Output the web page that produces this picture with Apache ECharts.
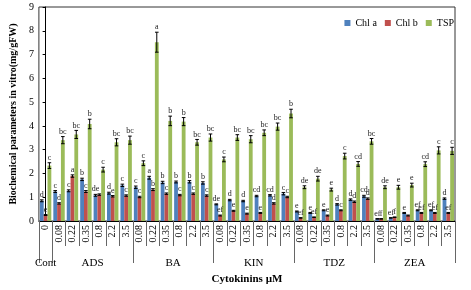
<!DOCTYPE html>
<html>
<head>
<meta charset="utf-8">
<script src="https://cdn.jsdelivr.net/npm/echarts@6/dist/echarts.min.js"></script>
<style>
  html, body { margin: 0; padding: 0; background: #fff; }
  #chart { width: 471px; height: 290px; }
</style>
</head>
<body>
<div id="chart"></div>
<script>
// doses per treatment (Cont + 5 cytokinins x 6 doses)
var doses = ['0',
  '0.08', '0.22', '0.35', '0.8', '2.2', '3.5',
  '0.08', '0.22', '0.35', '0.8', '2.2', '3.5',
  '0.08', '0.22', '0.35', '0.8', '2.2', '3.5',
  '0.08', '0.22', '0.35', '0.8', '2.2', '3.5',
  '0.08', '0.22', '0.35', '0.8', '2.2', '3.5'];
var groups = ['Cont', 'ADS', 'BA', 'KIN', 'TDZ', 'ZEA'];
var groupSizes = [1, 6, 6, 6, 6, 6];

var chlA = [0.85,
  1.24, 1.27, 1.75, 1.08, 1.17, 1.50,
  1.42, 1.82, 1.62, 1.64, 1.65, 1.60,
  0.70, 0.88, 0.84, 1.05, 1.08, 1.15,
  0.40, 0.34, 0.45, 0.70, 0.90, 1.04,
  0.09, 0.13, 0.34, 0.45, 0.45, 0.94];
var chlB = [0.25,
  0.74, 1.89, 1.24, 1.11, 1.04, 1.07,
  1.01, 1.32, 1.15, 1.09, 1.15, 1.07,
  0.23, 0.43, 0.31, 0.34, 0.74, 1.01,
  0.13, 0.16, 0.23, 0.45, 0.81, 0.94,
  0.09, 0.16, 0.23, 0.34, 0.34, 0.34];
var tsp = [2.33,
  3.40, 3.64, 4.08, 2.16, 3.31, 3.40,
  2.43, 7.52, 4.21, 4.18, 3.31, 3.51,
  2.59, 3.51, 3.44, 3.71, 3.97, 4.52,
  1.42, 1.78, 1.32, 2.73, 2.40, 3.35,
  1.42, 1.42, 1.51, 2.39, 2.97, 2.95];

var errA = [0.04,
  0.04, 0.04, 0.05, 0.04, 0.04, 0.05,
  0.05, 0.06, 0.05, 0.04, 0.05, 0.05,
  0.02, 0.03, 0.03, 0.03, 0.03, 0.05,
  0.02, 0.02, 0.02, 0.03, 0.03, 0.04,
  0.01, 0.01, 0.02, 0.02, 0.02, 0.03];
var errB = [0.02,
  0.03, 0.05, 0.04, 0.03, 0.03, 0.03,
  0.03, 0.04, 0.03, 0.03, 0.03, 0.03,
  0.02, 0.02, 0.02, 0.02, 0.03, 0.03,
  0.01, 0.01, 0.02, 0.02, 0.03, 0.03,
  0.01, 0.01, 0.02, 0.02, 0.02, 0.02];
var errT = [0.12,
  0.15, 0.17, 0.2, 0.1, 0.15, 0.17,
  0.1, 0.42, 0.2, 0.17, 0.12, 0.15,
  0.1, 0.12, 0.15, 0.12, 0.15, 0.18,
  0.06, 0.1, 0.06, 0.12, 0.1, 0.12,
  0.06, 0.08, 0.08, 0.1, 0.15, 0.15];

var letA = ['d',
  'c', 'c', 'b', 'de', 'd', 'c',
  'c', 'a', 'b', 'b', 'b', 'b',
  'de', 'd', 'd', 'cd', 'cd', 'c',
  'e', 'e', 'e', 'd', 'd', 'cd',
  'ef', 'ef', 'e', 'ef', 'ef', 'd'];
var letB = ['e',
  'd', 'a', 'c', '', 'e', 'c',
  'c', 'b', 'c', 'c', 'c', 'c',
  'ef', 'e', 'e', 'e', 'd', 'c',
  'ef', 'ef', 'e', 'c', 'd', 'd',
  'f', 'f', '', 'ef', 'ef', 'ef'];
var letT = ['c',
  'bc', 'bc', 'b', 'c', 'bc', 'bc',
  'c', 'a', 'b', 'b', 'bc', 'bc',
  'c', 'bc', 'bc', 'bc', 'bc', 'b',
  'de', 'de', 'e', 'c', 'cd', 'bc',
  'de', 'e', 'e', 'cd', 'c', 'c'];

var serif = '"Liberation Serif", "Times New Roman", serif';
var catGap = 0.15;

// first index of each group, and the centre of each group on the category scale
var groupStarts = [];
var groupCentres = [];
var s = 0;
groupSizes.forEach(function (n) {
  groupStarts.push(s);
  groupCentres.push(s + (n - 1) / 2);
  s += n;
});

function errSeries(name, idx, vals, errs, letters) {
  return {
    type: 'custom',
    name: name,
    z: 10,
    silent: true,
    data: vals.map(function (v, i) { return [i, v, errs[i]]; }),
    renderItem: function (params, api) {
      var i = api.value(0), v = api.value(1), e = api.value(2);
      var band = api.size([1, 0])[0];
      var bw = band * (1 - catGap) / 3;
      var cx = api.coord([i, 0])[0] + (idx - 1) * bw;
      var hi = api.coord([i, v + e])[1];
      var lo = api.coord([i, v - e])[1];
      var cap = 1.8;
      var st = { stroke: '#000', lineWidth: 1 };
      return {
        type: 'group',
        children: [
          { type: 'line', shape: { x1: cx, y1: hi, x2: cx, y2: lo }, style: st },
          { type: 'line', shape: { x1: cx - cap, y1: hi, x2: cx + cap, y2: hi }, style: st },
          { type: 'line', shape: { x1: cx - cap, y1: lo, x2: cx + cap, y2: lo }, style: st },
          { type: 'text', style: { text: letters[i], x: cx, y: hi - 1, align: 'center',
              verticalAlign: 'bottom', font: '8px ' + serif, fill: '#222' } }
        ]
      };
    }
  };
}

var chart = echarts.init(document.getElementById('chart'));
chart.setOption({
  animation: false,
  backgroundColor: '#fff',
  legend: {
    data: ['Chl a', 'Chl b', 'TSP'],
    right: 12, top: 13,
    itemWidth: 6, itemHeight: 6, itemGap: 8,
    icon: 'rect',
    textStyle: { fontFamily: serif, fontSize: 10, color: '#000' }
  },
  grid: {
    left: 35, right: 16, top: 7, bottom: 60,
    show: true, borderColor: '#333', borderWidth: 1
  },
  xAxis: [{
    type: 'category',
    data: doses,
    axisLine: { show: true, lineStyle: { color: '#000' } },
    axisTick: { show: true, interval: 0, length: 25, lineStyle: { color: '#666', width: 1 } },
    axisLabel: { interval: 0, rotate: 90, margin: 4, fontFamily: serif, fontSize: 10, color: '#000' }
  }, {
    type: 'category',
    data: doses,
    position: 'bottom',
    axisLine: { show: true, lineStyle: { color: 'rgba(0,0,0,0)' } },
    axisLabel: { show: false },
    axisTick: {
      show: true,
      length: 42,
      interval: function (index) { return groupStarts.indexOf(index) >= 0; },
      lineStyle: { color: '#666', width: 1 }
    }
  }, {
    type: 'value',
    min: -0.5, max: doses.length - 0.5, interval: 0.5,
    position: 'bottom',
    offset: 37,
    axisLine: { show: false },
    axisTick: { show: false },
    splitLine: { show: false },
    axisLabel: {
      margin: 0,
      fontFamily: serif, fontSize: 11, color: '#000',
      formatter: function (v) {
        for (var g = 0; g < groupCentres.length; g++) {
          if (Math.abs(groupCentres[g] - v) < 1e-6) return groups[g];
        }
        return '';
      }
    },
    name: 'Cytokinins µM',
    nameLocation: 'middle',
    nameGap: 16,
    nameTextStyle: { fontFamily: serif, fontSize: 11, fontWeight: 'bold', color: '#000' }
  }],
  yAxis: {
    type: 'value',
    min: 0, max: 9, interval: 1,
    name: 'Biochemical parameters in vitro(mg/gFW)',
    nameLocation: 'middle',
    nameGap: 19,
    nameTextStyle: { fontFamily: serif, fontSize: 10, fontWeight: 'bold', color: '#000' },
    axisLine: { show: true, lineStyle: { color: '#000' } },
    axisTick: { show: true, length: 3, lineStyle: { color: '#000' } },
    splitLine: { show: false },
    axisLabel: { margin: 5, fontFamily: serif, fontSize: 10, color: '#000' }
  },
  series: [
    { name: 'Chl a', type: 'bar', data: chlA, barGap: '0%', barCategoryGap: (catGap * 100) + '%',
      itemStyle: { color: '#4F81BD' } },
    { name: 'Chl b', type: 'bar', data: chlB, itemStyle: { color: '#C0504D' } },
    { name: 'TSP', type: 'bar', data: tsp, itemStyle: { color: '#9BBB59' } },
    errSeries('Chl a err', 0, chlA, errA, letA),
    errSeries('Chl b err', 1, chlB, errB, letB),
    errSeries('TSP err', 2, tsp, errT, letT)
  ]
});
</script>
</body>
</html>
